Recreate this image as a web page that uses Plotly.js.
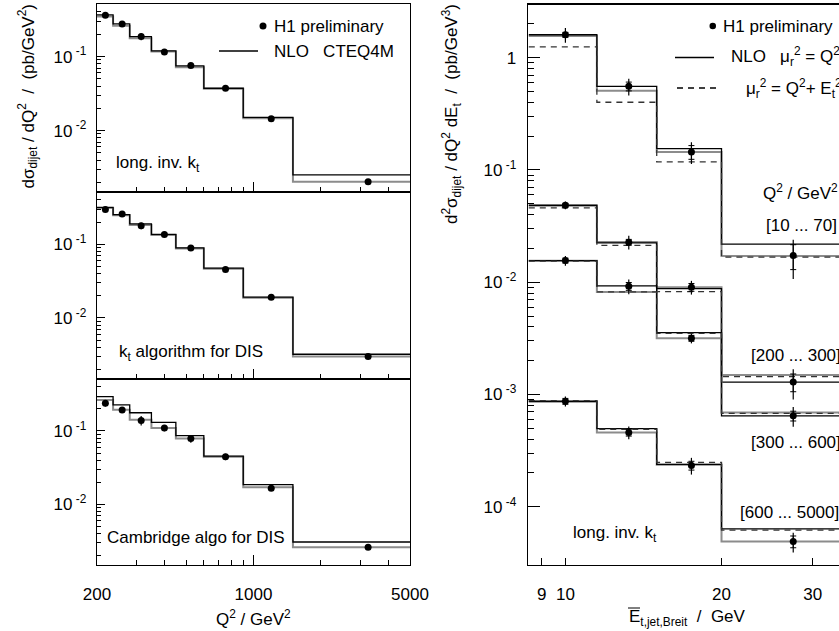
<!DOCTYPE html>
<html><head><meta charset="utf-8">
<script src="https://cdn.plot.ly/plotly-3.0.1.min.js"></script>
<style>html,body{margin:0;padding:0;background:#fff;overflow:hidden}#chart{width:839px;height:631px}</style>
</head><body><div id="chart"></div>
<script>
// ---------- Left: d sigma / dQ2 ----------
const q2Edges = [200, 236, 280, 350, 450, 600, 900, 1500, 5000];
const q2Centers = [218, 259, 315, 400, 525, 750, 1200, 3250];
const q2TickVals = [200, 1000, 5000];
const q2TickText = ["200", "1000", "5000"];

const dataLongKt = [0.362, 0.276, 0.186, 0.1156, 0.0756, 0.0373, 0.0144, 0.00204];
const errLongKt = [0.06, 0.05, 0.11, 0.06, 0.06, 0.06, 0.06, 0.08];
const nloBlackLongKt = [0.366, 0.276, 0.186, 0.119, 0.0748, 0.0373, 0.0151, 0.00252];
const nloGrayLongKt = [0.347, 0.260, 0.177, 0.1168, 0.0718, 0.0366, 0.0147, 0.00204];

const dataKtDis = [0.296, 0.258, 0.178, 0.136, 0.0893, 0.0456, 0.0190, 0.00299];
const errKtDis = [0.07, 0.05, 0.10, 0.06, 0.07, 0.06, 0.05, 0.08];
const nloBlackKtDis = [0.318, 0.253, 0.1897, 0.136, 0.0893, 0.0475, 0.01918, 0.00321];
const nloGrayKtDis = [0.311, 0.2484, 0.182, 0.1335, 0.0874, 0.0466, 0.0188, 0.00299];

const dataCamb = [0.240, 0.193, 0.1396, 0.110, 0.0787, 0.0444, 0.0165, 0.00258];
const errCamb = [0.10, 0.08, 0.15, 0.10, 0.12, 0.10, 0.06, 0.06];
const nloBlackCamb = [0.2955, 0.2277, 0.1774, 0.1311, 0.0864, 0.0453, 0.01849, 0.00305];
const nloGrayCamb = [0.266, 0.195, 0.1425, 0.1098, 0.0787, 0.0444, 0.0170, 0.00258];

const leftPanelLabels = ["long. inv. k<sub>t</sub>", "k<sub>t</sub> algorithm for DIS", "Cambridge algo for DIS"];

// ---------- Right: d2 sigma / dQ2 dEt ----------
const etEdges = [8.5, 11.5, 15, 20, 35];
const etCenters = [10, 13.25, 17.5, 27.5];
const etTickVals = [9, 10, 20, 30];
const etTickText = ["9", "10", "20", "30"];
const q2BinLabels = ["[10 ... 70]", "[200 ... 300]", "[300 ... 600]", "[600 ... 5000]"];

const dataQ10 = [1.60, 0.556, 0.1446, 0.01727];
const totQ10 = [0.15, 0.17, 0.22, 0.38];
const statQ10 = [0.05, 0.09, 0.14, 0.25];
const nloBlackQ10 = [1.60, 0.556, 0.155, 0.0218];
const nloGrayQ10 = [1.56, 0.508, 0.1446, 0.01715];
const nloDashQ10 = [1.25, 0.401, 0.118, 0.0167];

const dataQ200 = [0.0485, 0.0227, 0.00902, 0.00129];
const totQ200 = [0.08, 0.14, 0.14, 0.30];
const statQ200 = [0.04, 0.06, 0.08, 0.18];
const nloBlackQ200 = [0.0485, 0.0224, 0.00877, 0.00129];
const nloGrayQ200 = [0.0480, 0.0228, 0.0090, 0.00149];
const nloDashQ200 = [0.0459, 0.0213, 0.00824, 0.00144];

const dataQ300 = [0.0156, 0.0092, 0.00317, 0.000645];
const totQ300 = [0.10, 0.15, 0.10, 0.20];
const statQ300 = [0.05, 0.08, 0.06, 0.10];
const nloBlackQ300 = [0.0156, 0.00927, 0.00356, 0.000645];
const nloGrayQ300 = [0.0155, 0.0082, 0.00317, 0.00069];
const nloDashQ300 = [0.0154, 0.0082, 0.0035, 0.00068];

const dataQ600 = [0.00087, 0.000458, 0.000233, 0.000049];
const totQ600 = [0.10, 0.13, 0.17, 0.20];
const statQ600 = [0.06, 0.07, 0.09, 0.12];
const nloBlackQ600 = [0.00087, 0.000497, 0.000238, 0.0000636];
const nloGrayQ600 = [0.00086, 0.000458, 0.000236, 0.000049];
const nloDashQ600 = [0.00088, 0.000490, 0.000248, 0.000062];

// ---------- helpers ----------
const W = 839, H = 631;
const px = x => x / W;
const py = y => 1 - y / H;
const stepY = v => v.concat([v[v.length - 1]]);
const absErr = (v, f) => v.map((a, i) => a * f[i]);
const FONT = "Liberation Sans, Arial, Helvetica, sans-serif";
const FS = 17;
const BLACK = "#000000", GRAY = "#8c8c8c";

const traces = [];
const leftSets = [
  [dataLongKt, errLongKt, nloBlackLongKt, nloGrayLongKt],
  [dataKtDis, errKtDis, nloBlackKtDis, nloGrayKtDis],
  [dataCamb, errCamb, nloBlackCamb, nloGrayCamb]
];
leftSets.forEach((s, i) => {
  const xa = i === 0 ? "x" : "x" + (i + 1);
  const ya = i === 0 ? "y" : "y" + (i + 1);
  traces.push({x: q2Edges, y: stepY(s[3]), xaxis: xa, yaxis: ya, mode: "lines",
    line: {shape: "hv", color: GRAY, width: 2}, hoverinfo: "skip"});
  traces.push({x: q2Edges, y: stepY(s[2]), xaxis: xa, yaxis: ya, mode: "lines",
    line: {shape: "hv", color: BLACK, width: 1.3}, hoverinfo: "skip"});
  traces.push({x: q2Centers, y: s[0], xaxis: xa, yaxis: ya, mode: "markers",
    marker: {color: BLACK, size: 7},
    error_y: {type: "data", array: absErr(s[0], s[1]), color: BLACK, thickness: 1.2, width: 0}});
});

const rightSets = [
  [dataQ10, totQ10, statQ10, nloBlackQ10, nloGrayQ10, nloDashQ10],
  [dataQ200, totQ200, statQ200, nloBlackQ200, nloGrayQ200, nloDashQ200],
  [dataQ300, totQ300, statQ300, nloBlackQ300, nloGrayQ300, nloDashQ300],
  [dataQ600, totQ600, statQ600, nloBlackQ600, nloGrayQ600, nloDashQ600]
];
rightSets.forEach(s => {
  traces.push({x: etEdges, y: stepY(s[4]), xaxis: "x4", yaxis: "y4", mode: "lines",
    line: {shape: "hv", color: GRAY, width: 2}, hoverinfo: "skip"});
  traces.push({x: etEdges, y: stepY(s[3]), xaxis: "x4", yaxis: "y4", mode: "lines",
    line: {shape: "hv", color: BLACK, width: 1.3}, hoverinfo: "skip"});
  traces.push({x: etEdges, y: stepY(s[5]), xaxis: "x4", yaxis: "y4", mode: "lines",
    line: {shape: "hv", color: "#333333", width: 1.3, dash: "6px,5px"}, hoverinfo: "skip"});
  traces.push({x: etCenters, y: s[0], xaxis: "x4", yaxis: "y4", mode: "markers",
    marker: {color: BLACK, size: 7},
    error_y: {type: "data", array: absErr(s[0], s[1]), color: BLACK, thickness: 1.2, width: 0}});
  traces.push({x: etCenters, y: s[0], xaxis: "x4", yaxis: "y4", mode: "markers",
    marker: {color: BLACK, size: 1, opacity: 0},
    error_y: {type: "data", array: absErr(s[0], s[2]), color: BLACK, thickness: 1, width: 3}});
});

// ---------- axes ----------
const decMinor = [];
[0.0001, 0.001, 0.01, 0.1, 1].forEach(d => { for (let k = 2; k <= 9; k++) decMinor.push(d * k); });
const q2Minor = [300, 400, 500, 600, 700, 800, 900, 2000, 3000, 4000];

const leftDomX = [px(97), px(410)];
const leftDomY = [[py(192), py(4)], [py(379), py(192)], [py(565), py(379)]];
const tickFont = {family: FONT, size: FS, color: BLACK};

function qAxis(i) {
  return {type: "log", range: [Math.log10(200), Math.log10(5000)], domain: leftDomX,
    anchor: i === 0 ? "y" : "y" + (i + 1),
    showline: true, linecolor: BLACK, linewidth: 1.3, mirror: true,
    ticks: "inside", ticklen: 10, tickcolor: BLACK, tickwidth: 1,
    tickmode: "array", tickvals: q2TickVals, ticktext: q2TickText,
    showticklabels: i === 2, tickfont: tickFont, ticklabelstandoff: 13,
    minor: {tickmode: "array", tickvals: q2Minor, ticks: "inside", ticklen: 5, tickcolor: BLACK, tickwidth: 1, showgrid: false},
    showgrid: false, zeroline: false, fixedrange: true};
}
function sAxis(i) {
  return {type: "log", range: [-2.83, -0.29], domain: leftDomY[i],
    anchor: i === 0 ? "x" : "x" + (i + 1),
    showline: true, linecolor: BLACK, linewidth: 1.3, mirror: true,
    ticks: "inside", ticklen: 8, tickcolor: BLACK, tickwidth: 1,
    tickmode: "array", tickvals: [0.1, 0.01], ticktext: ["10<sup> -1</sup>", "10<sup> -2</sup>"],
    tickfont: tickFont, ticklabelstandoff: 6,
    minor: {tickmode: "array", tickvals: decMinor, ticks: "inside", ticklen: 4, tickcolor: BLACK, tickwidth: 1, showgrid: false},
    showgrid: false, zeroline: false, fixedrange: true};
}

const layout = {
  width: W, height: H, margin: {l: 0, r: 0, t: 0, b: 0},
  paper_bgcolor: "#ffffff", plot_bgcolor: "#ffffff", showlegend: false,
  font: {family: FONT, size: FS, color: BLACK},
  xaxis: qAxis(0), xaxis2: qAxis(1), xaxis3: qAxis(2),
  yaxis: sAxis(0), yaxis2: sAxis(1), yaxis3: sAxis(2),
  xaxis4: {type: "log", range: [Math.log10(8.47), 1.5276], domain: [px(528), 1], anchor: "y4",
    showline: true, linecolor: BLACK, linewidth: 1.3, mirror: true,
    ticks: "inside", ticklen: 7, tickcolor: BLACK, tickwidth: 1,
    tickmode: "array", tickvals: etTickVals, ticktext: etTickText,
    tickfont: tickFont, ticklabelstandoff: 13, showgrid: false, zeroline: false, fixedrange: true},
  yaxis4: {type: "log", range: [-4.519, 0.472], domain: [py(565), py(4.7)], anchor: "x4",
    showline: true, linecolor: BLACK, linewidth: 1.3, mirror: false,
    ticks: "inside", ticklen: 12, tickcolor: BLACK, tickwidth: 1,
    tickmode: "array", tickvals: [1, 0.1, 0.01, 0.001, 0.0001],
    ticktext: ["1", "10<sup> -1</sup>", "10<sup> -2</sup>", "10<sup> -3</sup>", "10<sup> -4</sup>"],
    tickfont: tickFont, ticklabelstandoff: 7,
    minor: {tickmode: "array", tickvals: decMinor, ticks: "inside", ticklen: 6, tickcolor: BLACK, tickwidth: 1, showgrid: false},
    showgrid: false, zeroline: false, fixedrange: true},
  annotations: [],
  shapes: []
};

const ann = (text, x, y, xa, ya, extra) => Object.assign({text: text, xref: "paper", yref: "paper",
  x: px(x), y: py(y), xanchor: xa || "left", yanchor: ya || "middle", showarrow: false,
  font: {family: FONT, size: FS, color: BLACK}}, extra || {});

const A = layout.annotations;
// left legend
A.push(ann("H1 preliminary", 272, 26));
A.push(ann("NLO\u00A0\u00A0 CTEQ4M", 272, 51));
layout.shapes.push({type: "circle", xref: "paper", yref: "paper", x0: px(259.5), x1: px(266.5), y0: py(29.5), y1: py(22.5), fillcolor: BLACK, line: {width: 0}});
layout.shapes.push({type: "line", xref: "paper", yref: "paper", x0: px(219), x1: px(258), y0: py(51), y1: py(51), line: {color: BLACK, width: 1.3}});
// left panel labels
A.push(ann(leftPanelLabels[0], 114, 164));
A.push(ann(leftPanelLabels[1], 117, 353));
A.push(ann(leftPanelLabels[2], 105, 537));
// left titles
A.push(ann("Q<sup>2</sup> / GeV<sup>2</sup>", 253, 618, "center"));
A.push(ann("dσ<sub>dijet</sub> / dQ<sup>2</sup>\u00A0 /\u00A0 (pb/GeV<sup>2</sup>)", 28, 2, "center", "top", {textangle: -90}));
// right legend
A.push(ann("H1 preliminary", 721, 26));
layout.shapes.push({type: "circle", xref: "paper", yref: "paper", x0: px(709.5), x1: px(716), y0: py(29.3), y1: py(22.8), fillcolor: BLACK, line: {width: 0}});
A.push(ann("NLO\u00A0\u00A0 μ<sub>r</sub><sup>2</sup> = Q<sup>2</sup>", 729, 57));
layout.shapes.push({type: "line", xref: "paper", yref: "paper", x0: px(675), x1: px(714), y0: py(57.5), y1: py(57.5), line: {color: BLACK, width: 1.3}});
A.push(ann("μ<sub>r</sub><sup>2</sup> = Q<sup>2</sup>+ E<sub>t</sub><sup>2</sup>", 744, 88));
layout.shapes.push({type: "line", xref: "paper", yref: "paper", x0: px(677), x1: px(717), y0: py(88), y1: py(88), line: {color: BLACK, width: 1.3, dash: "6px,5px"}});
// right labels
A.push(ann("Q<sup>2</sup> / GeV<sup>2</sup>", 761, 192));
A.push(ann(q2BinLabels[0], 764, 225));
A.push(ann(q2BinLabels[1], 749, 355));
A.push(ann(q2BinLabels[2], 749, 442));
A.push(ann(q2BinLabels[3], 738, 512));
A.push(ann("long. inv. k<sub>t</sub>", 571, 534));
// right titles
A.push(ann("E<sub>t,jet,Breit</sub>\u00A0 /\u00A0 GeV", 627, 618));
layout.shapes.push({type: "line", xref: "paper", yref: "paper", x0: px(628), x1: px(640), y0: py(608), y1: py(608), line: {color: BLACK, width: 1}});
A.push(ann("d<sup>2</sup>σ<sub>dijet</sub> / dQ<sup>2</sup> dE<sub>t</sub>\u00A0 /\u00A0 (pb/GeV<sup>3</sup>)", 451, 2, "center", "top", {textangle: -90}));

Plotly.newPlot("chart", traces, layout, {staticPlot: true, displayModeBar: false});
</script></body></html>
